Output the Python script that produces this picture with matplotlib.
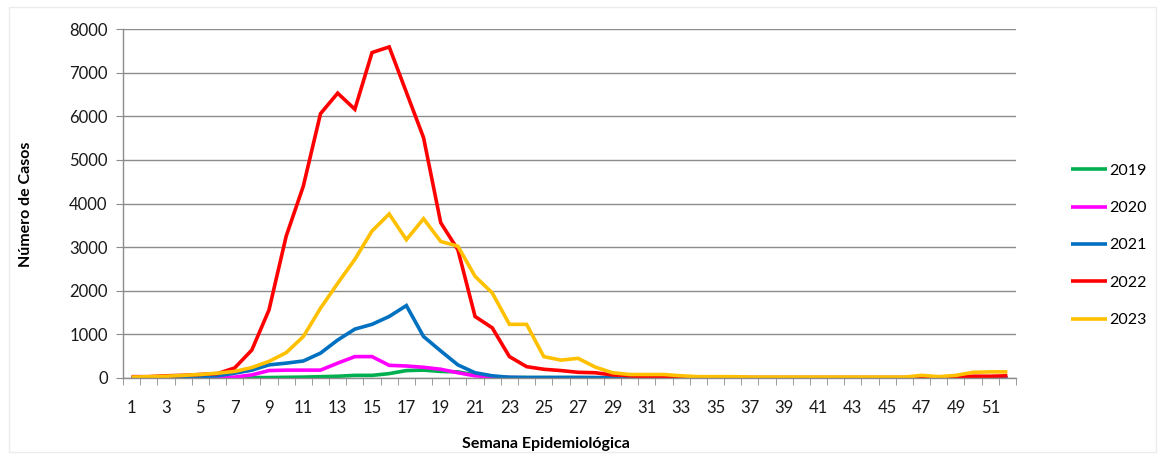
import numpy as np
import matplotlib
matplotlib.use("Agg")
import matplotlib.pyplot as plt

##### Data #####

semanas = np.arange(1, 53)

casos_2019 = [0, 0, 0, 0, 0, 0, 5, 10, 10, 15, 20, 30, 40, 60, 60, 100,
              170, 180, 150, 140, 70, 30, 10, 10, 10, 10, 10, 5, 5, 5,
              5, 5, 5, 5, 5, 5, 5, 5, 5, 5, 5, 5, 5, 5, 5, 5, 5, 5, 5, 5, 5, 5]
casos_2020 = [0, 0, 0, 0, 5, 10, 20, 70, 170, 180, 180, 180, 340, 490, 490, 290,
              275, 245, 200, 120, 50, 20, 10, 5, 5, 5, 5, 5, 5, 5,
              5, 5, 5, 5, 5, 5, 5, 5, 5, 5, 5, 5, 5, 5, 5, 5, 5, 5, 5, 5, 5, 5]
casos_2021 = [5, 10, 15, 20, 30, 50, 110, 180, 300, 340, 390, 570, 870, 1120, 1230, 1410,
              1660, 950, 620, 300, 120, 50, 15, 10, 10, 10, 10, 10, 5, 5,
              5, 5, 5, 5, 5, 5, 5, 5, 5, 5, 5, 5, 5, 5, 5, 5, 5, 5, 5, 5, 5, 5]
casos_2022 = [30, 30, 50, 60, 80, 100, 230, 640, 1560, 3250, 4400, 6060, 6530, 6160, 7460, 7590,
              6550, 5510, 3560, 2940, 1410, 1150, 490, 260, 200, 170, 130, 120, 70, 50,
              30, 30, 20, 20, 20, 20, 10, 10, 10, 10, 10, 10, 10, 10, 10, 10, 20, 10, 20, 40, 40, 50]
casos_2023 = [20, 30, 40, 60, 80, 110, 150, 240, 380, 580, 950, 1600, 2170, 2720, 3370, 3760,
              3170, 3650, 3130, 3020, 2330, 1950, 1230, 1230, 490, 410, 450, 250, 120, 80,
              80, 80, 50, 30, 30, 30, 20, 20, 20, 20, 20, 20, 20, 20, 20, 20, 60, 30, 60, 130, 140, 140]

anos = ['2019', '2020', '2021', '2022', '2023']
cores = ['#00b050', '#ff00ff', '#0070c0', '#ff0000', '#ffc000']
series = [casos_2019, casos_2020, casos_2021, casos_2022, casos_2023]

##### Figure #####

plt.rcParams['font.family'] = ['Lato', 'DejaVu Sans']

fig = plt.figure(figsize=(11.65, 4.57), dpi=100)
ax = fig.add_axes([0.1056, 0.1729, 0.7665, 0.7636])

for ano, cor, valores in zip(anos, cores, series):
    ax.plot(semanas, valores, color=cor, lw=2.6, label=ano,
            solid_joinstyle='miter', solid_capstyle='butt')

ax.set_xlim(0.5, 52.5)
ax.set_ylim(0, 8000)
ax.set_yticks(np.arange(0, 8001, 1000))
ax.set_xticks(np.arange(1, 53, 2))
ax.set_xticks(np.arange(0.5, 53, 1), minor=True)
ax.tick_params(axis='x', which='major', length=0, pad=16, labelsize=12, labelcolor='#1a1a1a')
ax.tick_params(axis='x', which='minor', length=5, color='#8c8c8c', direction='out')
ax.tick_params(axis='y', length=5, color='#8c8c8c', pad=6, labelsize=12, labelcolor='#1a1a1a')

ax.grid(axis='y', color='#8c8c8c', lw=1)
ax.set_axisbelow(True)
for lado in ['top', 'right']:
    ax.spines[lado].set_visible(False)
for lado in ['left', 'bottom']:
    ax.spines[lado].set_color('#8c8c8c')
    ax.spines[lado].set_linewidth(1)

ax.set_xlabel('Semana Epidemiológica', fontsize=11.5, fontweight='bold')
ax.set_ylabel('Número de Casos', fontsize=11.5, fontweight='bold')
ax.xaxis.set_label_coords(0.474, -0.168)
ax.yaxis.set_label_coords(-0.101, 0.497)

ax.legend(loc='center left', bbox_to_anchor=(1.045, 0.38), frameon=False,
          fontsize=11.5, handlelength=2.3, handletextpad=0.1, labelspacing=1.45)

# faint outer border
fig.patches.append(plt.Rectangle((0.008, 0.01), 0.984, 0.975, transform=fig.transFigure,
                                 fill=False, edgecolor='#ececec', lw=1))

plt.savefig('out.png', dpi=100)
